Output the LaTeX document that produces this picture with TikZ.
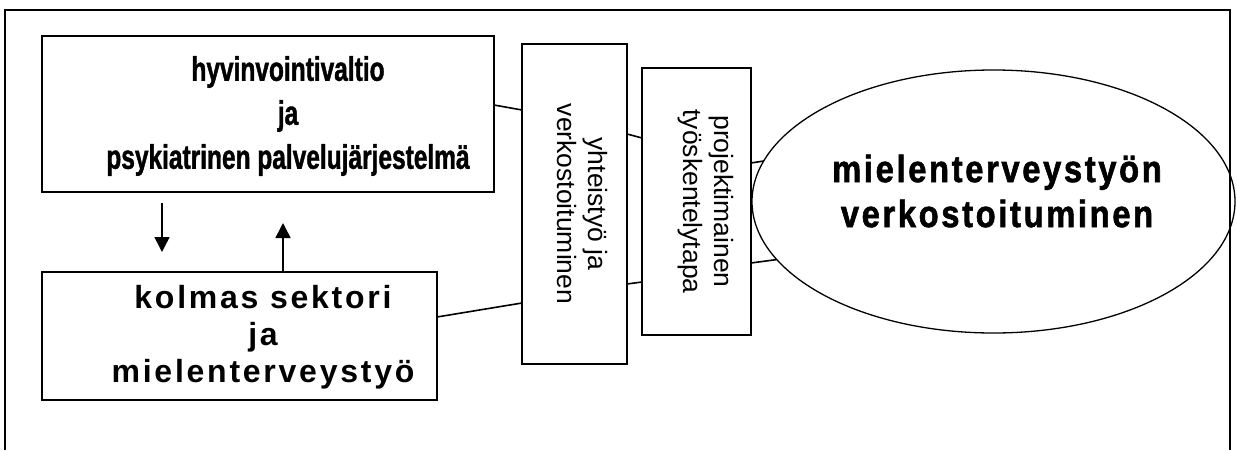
\documentclass[tikz,border=0pt]{standalone}
\usepackage{fontspec}
\setmainfont{Liberation Sans}
\newfontfamily\narrowfont[FakeStretch=0.72,FakeBold=1.2]{Liberation Sans}
\newfontfamily\spacedfont[LetterSpace=8.6]{Liberation Sans}
\newfontfamily\ovalfont[FakeStretch=0.86,LetterSpace=7,FakeBold=1.5]{Liberation Sans}
\usetikzlibrary{arrows.meta,shapes.geometric}

\begin{document}
\begin{tikzpicture}[x=1pt,y=-1pt,>={Triangle[width=15pt,length=15pt]},
    box/.style={draw,line width=1.8pt,inner sep=0pt,outer sep=0pt},
    link/.style={line width=1.6pt},
    sidetext/.style={font=\fontsize{26.5}{31}\selectfont,align=center,rotate=-90}]
    \useasboundingbox (0,0) rectangle (1237,450);
    % outer frame, open at the bottom
    \draw[line width=1.8pt] (5,450) -- (5,10) -- (1230,10) -- (1230,450);
    % boxes
    \node[box,minimum width=452pt,minimum height=156pt] (hyv) at (268,114) {};
    \node[box,minimum width=395pt,minimum height=128pt] (kol) at (239.5,336) {};
    \node[box,minimum width=105pt,minimum height=320pt] (yht) at (574.5,204) {};
    \node[box,minimum width=109pt,minimum height=267pt] (pro) at (696.5,201.5) {};
    \node[draw,ellipse,line width=1.3pt,inner sep=0pt,outer sep=0pt,
        minimum width=483pt,minimum height=263pt] (mie) at (993.5,201.5) {};
    % texts
    \node[font=\narrowfont\bfseries\fontsize{34}{44}\selectfont,align=center] (hyvtxt) at (288,116)
        {hyvinvointivaltio\\ja\\psykiatrinen palvelujärjestelmä};
    \node[font=\spacedfont\bfseries\fontsize{32}{37}\selectfont,align=center] (koltxt) at (263,337)
        {kolmas sektori\\ja\\mielenterveystyö};
    \node[sidetext] (yhttxt) at (582,204) {yhteistyö ja\\verkostoituminen};
    \node[sidetext] (protxt) at (706,201.5) {projektimainen\\työskentelytapa};
    \node[font=\ovalfont\bfseries\fontsize{38}{45}\selectfont,align=center] (mietxt) at (997,191)
        {mielenterveystyön\\verkostoituminen};
    % arrows between the two left boxes
    \draw[link,->] ([xshift=-106pt,yshift=-11pt]hyv.south) -- ([xshift=-77.5pt,yshift=20pt]kol.north);
    \draw[link,->] ([xshift=43.5pt]kol.north) -- ([xshift=15pt,yshift=-31pt]hyv.south);
    % connecting lines
    \draw[link] ([yshift=9pt]hyv.east) -- ([yshift=94pt]yht.west);
    \draw[link] ([yshift=19pt]kol.east) -- ([yshift=-99pt]yht.west);
    \draw[link] ([yshift=70pt]yht.east) -- ([yshift=63.5pt]pro.west);
    \draw[link] ([yshift=-80pt]yht.east) -- ([yshift=-80.5pt]pro.west);
    \draw[link] ([yshift=38.5pt]pro.east) -- (mie.170);
    \draw[link] ([yshift=-61.5pt]pro.east) -- (mie.195);
\end{tikzpicture}
\end{document}
